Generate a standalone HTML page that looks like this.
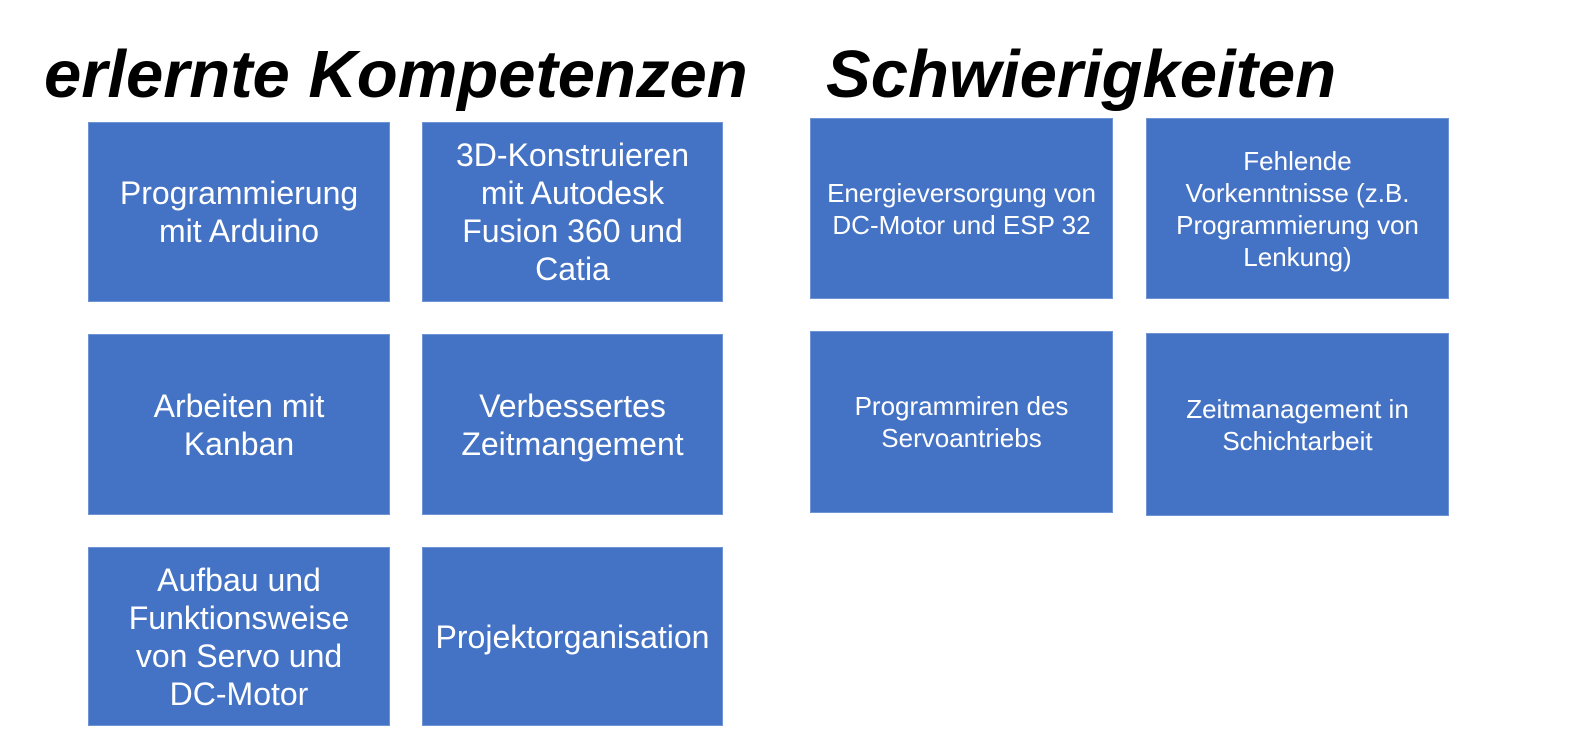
<!DOCTYPE html>
<html><head><meta charset="utf-8"><style>
body{margin:0;width:1583px;height:743px;background:#fff;position:relative;overflow:hidden;font-family:"Liberation Sans","DejaVu Sans",sans-serif}
.t{position:absolute;font-weight:bold;font-style:italic;font-size:67px;color:#000;white-space:nowrap;top:40px;line-height:70px}
.b{position:absolute;background:#4472c4;border:1px solid #6f94d6;box-sizing:border-box;display:flex;align-items:center;justify-content:center;text-align:center;color:#fff}
.l{font-size:32px;line-height:38px}
.r{font-size:26px;line-height:32px}
</style></head><body>
<div class="t" style="left:44px">erlernte Kompetenzen</div>
<div class="t" style="left:826px">Schwierigkeiten</div>

<div class="b l" style="left:88px;top:122px;width:302px;height:180px">Programmierung<br>mit Arduino</div>
<div class="b l" style="left:422px;top:122px;width:301px;height:180px">3D-Konstruieren<br>mit Autodesk<br>Fusion 360 und<br>Catia</div>
<div class="b l" style="left:88px;top:334px;width:302px;height:181px">Arbeiten mit<br>Kanban</div>
<div class="b l" style="left:422px;top:334px;width:301px;height:181px">Verbessertes<br>Zeitmangement</div>
<div class="b l" style="left:88px;top:547px;width:302px;height:179px">Aufbau und<br>Funktionsweise<br>von Servo und<br>DC-Motor</div>
<div class="b l" style="left:422px;top:547px;width:301px;height:179px">Projektorganisation</div>

<div class="b r" style="left:810px;top:118px;width:303px;height:181px">Energieversorgung von<br>DC-Motor und ESP 32</div>
<div class="b r" style="left:1146px;top:118px;width:303px;height:181px">Fehlende<br>Vorkenntnisse (z.B.<br>Programmierung von<br>Lenkung)</div>
<div class="b r" style="left:810px;top:331px;width:303px;height:182px">Programmiren des<br>Servoantriebs</div>
<div class="b r" style="left:1146px;top:333px;width:303px;height:183px">Zeitmanagement in<br>Schichtarbeit</div>
</body></html>
